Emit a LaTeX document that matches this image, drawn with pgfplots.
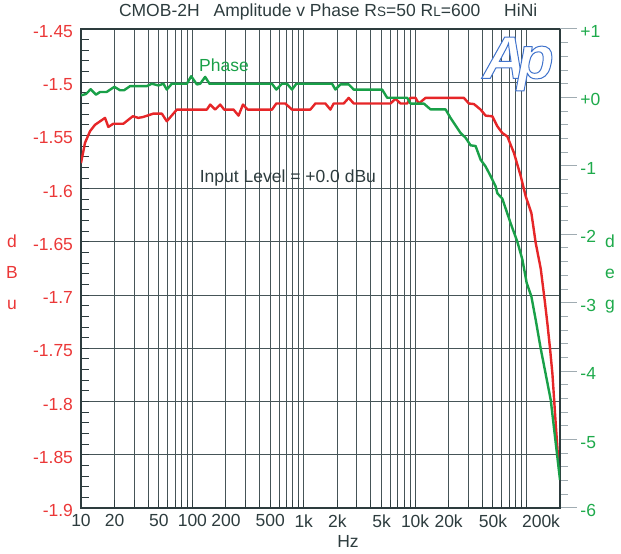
\documentclass[border=0pt]{standalone}
\usepackage{fontspec}
\setmainfont{Liberation Sans}
\usepackage{pgfplots}
\pgfplotsset{compat=1.18}
\definecolor{slate}{RGB}{45,60,62}
\definecolor{gridc}{RGB}{70,85,88}
\definecolor{tickgray}{RGB}{160,172,178}
\definecolor{myred}{RGB}{230,38,40}
\definecolor{redtxt}{RGB}{235,55,55}
\definecolor{mygreen}{RGB}{25,160,72}
\definecolor{greentxt}{RGB}{30,170,75}
\begin{document}
\begin{tikzpicture}
\begin{axis}[
  scale only axis, width=479pt, height=479pt,
  xmode=log, xmin=10, xmax=200000,
  ymin=-1.9, ymax=-1.45,
  axis line style={draw=slate, line width=1.2pt},
  xtick={10,20,50,100,200,500,1000,2000,5000,10000,20000,50000,200000},
  xticklabels={10,20,50,100,200,500,1k,2k,5k,10k,20k,50k,\llap{200k}},
  minor xtick={30,40,60,70,80,90,300,400,600,700,800,900,3000,4000,6000,7000,8000,9000,30000,40000,60000,70000,80000,90000,100000},
  ytick={-1.9,-1.85,-1.8,-1.75,-1.7,-1.65,-1.6,-1.55,-1.5,-1.45},
  yticklabels={-1.9,-1.85,-1.8,-1.75,-1.7,-1.65,-1.6,-1.55,-1.5,-1.45},
  minor y tick num=4,
  xmajorgrids, xminorgrids, ymajorgrids,
  major grid style={draw=gridc, line width=1pt},
  minor grid style={draw=gridc, line width=1pt},
  tick align=inside,
  ytick pos=left, xtick pos=bottom,
  major tick length=8pt, minor tick length=8pt,
  every tick/.style={draw=slate, line width=1pt},
  tick label style={font=\fontsize{17.5}{17.5}\selectfont},
  yticklabel style={text=redtxt, xshift=-4.5pt, yshift=-2.5pt},
  xticklabel style={text=slate, yshift=-3pt},
  ylabel={d\\B\\u},
  ylabel style={rotate=-90, align=center, text=redtxt, font=\fontsize{17.5}{31}\selectfont, at={(axis description cs:-0.144,0.4917)}, anchor=center},
  xlabel={Hz},
  xlabel style={text=slate, font=\fontsize{17.5}{17.5}\selectfont, at={(axis description cs:0.5574,-0.0704)}, anchor=center},
  title={CMOB-2H\hspace{14pt}Amplitude v Phase R{\fontsize{13.5}{13.5}\selectfont S}=50 R{\fontsize{13.5}{13.5}\selectfont L}=600\hspace{24pt}HiNi},
  title style={text=slate, font=\fontsize{17.5}{17.5}\selectfont, at={(axis description cs:0.516,1.023)}, anchor=center},
]
\addplot[myred, line width=2.4pt, line join=round] coordinates {
(10,-1.576) (10.86,-1.557) (12.05,-1.546) (13.36,-1.540) (16.44,-1.5335)
(17.60,-1.542) (19.52,-1.539) (24.01,-1.539) (29.17,-1.532) (32.76,-1.5335)
(36.34,-1.5326) (44.69,-1.5295) (53.18,-1.5295) (58.96,-1.5367) (72.55,-1.5257)
(135.0,-1.5257) (144.6,-1.521) (160.3,-1.5257) (177.8,-1.521) (193.2,-1.5257)
(234.2,-1.5257) (259.8,-1.5314) (284.6,-1.521) (313.1,-1.5257) (518.8,-1.5257)
(567.2,-1.520) (683.2,-1.520) (785.0,-1.5257) (1147,-1.5257) (1272,-1.520)
(1564,-1.520) (1735,-1.5257) (1857,-1.520) (2285,-1.520) (2534,-1.5147)
(2811,-1.520) (6009,-1.520) (6664,-1.5156) (7392,-1.520) (8489,-1.520)
(9091,-1.5147) (10080,-1.5147) (10800,-1.520) (12405,-1.5147) (27420,-1.5147)
(30400,-1.520) (33720,-1.5205) (38740,-1.5257) (42970,-1.5314) (49370,-1.532)
(54750,-1.5414) (60720,-1.5477) (67330,-1.551) (77210,-1.5665) (88680,-1.588)
(98350,-1.607) (110700,-1.623) (121000,-1.651) (134200,-1.675) (145800,-1.705)
(154200,-1.727) (162700,-1.750) (171000,-1.774) (183100,-1.821) (192000,-1.852)
(200000,-1.862)
};
\node[text=mygreen, font=\fontsize{17.5}{17.5}\selectfont] at (rel axis cs:0.2985,0.925) {Phase};
\node[text=slate, font=\fontsize{17.5}{17.5}\selectfont] at (rel axis cs:0.432,0.689) {Input Level = +0.0 dBu};
\node[inner sep=0pt] at (rel axis cs:0.913,0.927) {\special{pdf:literal q 2 Tr 1.0 w 0.25 0.45 0.8 RG 1 1 1 rg}\fontsize{60}{60}\selectfont\bfseries\itshape A\kern-9pt p\special{pdf:literal Q}};
\end{axis}
\begin{axis}[
  scale only axis, width=479pt, height=479pt,
  xmode=log, xmin=10, xmax=200000,
  ymin=-6, ymax=1,
  hide x axis, axis y line*=right,
  y axis line style={draw=slate, line width=1.2pt, -},
  ytick={-6,-5,-4,-3,-2,-1,0,1},
  yticklabels={-6,-5,-4,-3,-2,-1,+0,+1},
  minor y tick num=4,
  tick align=outside,
  major tick length=17pt, minor tick length=8pt,
  every tick/.style={draw=tickgray, line width=1pt},
  tick label style={font=\fontsize{17.5}{17.5}\selectfont},
  yticklabel style={text=greentxt, anchor=west, yshift=-2.5pt},
  ylabel={d\\e\\g},
  ylabel style={rotate=-90, align=center, text=greentxt, font=\fontsize{17.5}{31}\selectfont, at={(axis description cs:1.1044,0.4885)}, anchor=center},
]
\addplot[mygreen, line width=2.4pt, line join=round] coordinates {
(10,0.03) (11.09,0.05) (12.22,0.12) (13.64,0.04) (14.82,0.08) (17.02,0.08)
(19.93,0.155) (22.42,0.105) (24.36,0.105) (27.58,0.165) (38.98,0.165)
(43.23,0.20) (49.58,0.175) (54.96,0.20) (58.96,0.115) (65.42,0.20)
(89.23,0.20) (97.54,0.31) (109.8,0.19) (117.5,0.20) (130.3,0.30) (142.5,0.20)
(518.8,0.20) (567.2,0.115) (638.1,0.20) (707.7,0.20) (785.0,0.115) (858.0,0.20)
(1798,0.20) (1924,0.115) (2134,0.19) (2534,0.19) (2811,0.115) (5059,0.115)
(5612,-0.005) (8489,-0.005) (9091,-0.09) (11980,-0.09) (13760,-0.175)
(18770,-0.175) (20810,-0.30) (25600,-0.52) (28400,-0.59) (31490,-0.70)
(34930,-0.71) (38740,-0.91) (42970,-1.01) (47660,-1.15) (52840,-1.30)
(54750,-1.40) (60720,-1.48) (72100,-1.84) (82830,-2.11) (91870,-2.37)
(100400,-2.71) (110700,-2.91) (121000,-3.25) (134200,-3.67) (165100,-4.42)
(200000,-5.59)
};
\end{axis}
\pgfresetboundingbox
\useasboundingbox (-81pt,-46pt) rectangle (540pt,508pt);
\end{tikzpicture}
\end{document}
